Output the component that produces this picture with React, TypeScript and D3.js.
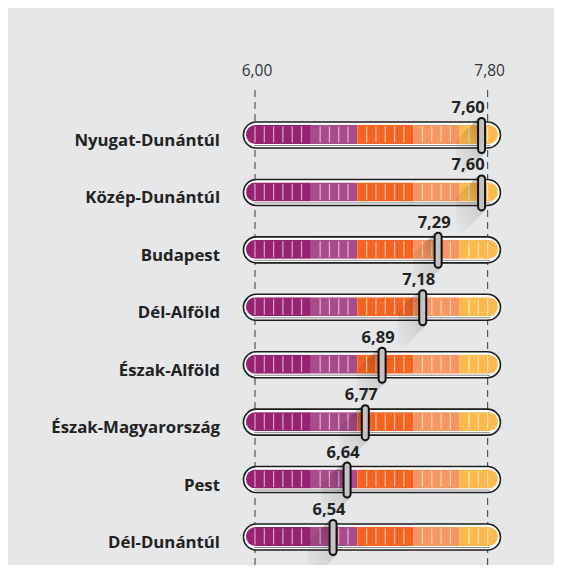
import React from "react";
import * as d3 from "d3";

// regions and scores
const regions = [
  "Nyugat-Dunántúl",
  "Közép-Dunántúl",
  "Budapest",
  "Dél-Alföld",
  "Észak-Alföld",
  "Észak-Magyarország",
  "Pest",
  "Dél-Dunántúl",
];
const scores = [7.6, 7.6, 7.29, 7.18, 6.89, 6.77, 6.64, 6.54];

// axis ends shown on top
const axisTicks = [6.0, 7.8];
// the bar is cut into 25 steps between the two ends
const stepCount = 25;
// colour bands, given as step index where each one stops
const bandStops = [6, 11, 17, 22];
const bandColors = ["#962272", "#a94b8b", "#f46420", "#f89560", "#fcba4e"];
// range the coloured bar covers
const barExtent = [5.93, 7.88];

const W = 546;
const H = 557;

const fmt = (v: number) => d3.format(".2f")(v).replace(".", ",");

export default function App() {
  const x = d3.scaleLinear().domain([6.0, 7.8]).range([247, 479.6]);
  // the knobs sit on a slightly wider scale than the axis
  const xm = d3.scaleLinear().domain([6.0, 7.8]).range([249.4, 501.6]);
  const y = d3.scalePoint<string>().domain(regions).range([127, 529]);

  const step = (7.8 - 6.0) / stepCount;
  const stepVals = d3.range(0, stepCount + 1).map((i) => 6.0 + i * step);
  const bandEdges = [barExtent[0], ...bandStops.map((i) => 6.0 + i * step), barExtent[1]];
  const bands = bandColors.map((c, i) => ({ from: bandEdges[i], to: bandEdges[i + 1], color: c }));

  const bx0 = x(barExtent[0]);
  const bx1 = x(barExtent[1]);
  const limit = x(7.8) - 3;

  return (
    <svg width={W} height={H} style={{ display: "block" }}>
      <defs>
        <linearGradient id="shade" x1="1" y1="0" x2="0" y2="1">
          <stop offset="0" stopColor="#000" stopOpacity={0.32} />
          <stop offset="0.45" stopColor="#000" stopOpacity={0.1} />
          <stop offset="1" stopColor="#000" stopOpacity={0} />
        </linearGradient>
        {regions.map((r, i) => (
          <clipPath id={`clip${i}`} key={r}>
            <rect x={bx0} y={y(r)! - 10} width={bx1 - bx0} height={19} rx={9.5} />
          </clipPath>
        ))}
      </defs>
      <rect width={W} height={H} fill="#e6e7e9" />

      {axisTicks.map((t) => (
        <g key={t}>
          <line x1={x(t)} x2={x(t)} y1={82} y2={H} stroke="#555" strokeWidth={1.2} strokeDasharray="7,5" />
          <text x={x(t) + 2} y={68} textAnchor="middle" fontFamily="Open Sans" fontSize={15.5} fill="#333">
            {fmt(t)}
          </text>
        </g>
      ))}

      {regions.map((r, i) => {
        const cy = y(r)!;
        const v = scores[i];
        const mx = xm(v);
        const mTop = cy - 17;
        const mBot = cy + 18;
        const w = 7;
        const L = 22;
        const x0 = mx - w / 2;
        const x1 = mx + w / 2;
        const shadow = [
          [x0, mTop],
          [x1, mTop],
          [x1, mBot],
          [x1 - L, mBot + L],
          [x0 - L, mBot + L],
          [x0 - L, mTop + L],
        ]
          .map((p) => p.join(","))
          .join(" ");
        let lx = mx - 4;
        let anchor = "middle";
        if (lx + 18 > limit) {
          lx = limit;
          anchor = "end";
        }
        return (
          <g key={r}>
            <text
              x={212}
              y={cy + 11}
              textAnchor="end"
              fontFamily="Open Sans"
              fontWeight="bold"
              fontSize={16.8}
              fill="#222"
            >
              {r}
            </text>
            <rect
              x={bx0 - 2.5}
              y={cy - 13}
              width={bx1 - bx0 + 5}
              height={26}
              rx={13}
              fill="#fff"
              stroke="#1c1c1c"
              strokeWidth={1.6}
            />
            <g clipPath={`url(#clip${i})`}>
              {bands.map((b) => (
                <rect
                  key={b.color}
                  x={x(b.from)}
                  y={cy - 10}
                  width={x(b.to) - x(b.from)}
                  height={19}
                  fill={b.color}
                />
              ))}
              {stepVals
                .filter((_, k) => !bandStops.includes(k))
                .map((s) => (
                  <line
                    key={s}
                    x1={x(s)}
                    x2={x(s)}
                    y1={cy - 8.5}
                    y2={cy + 7.5}
                    stroke="#fff"
                    strokeOpacity={0.6}
                    strokeWidth={1.2}
                  />
                ))}
            </g>
            <line x1={bx0 + 8} x2={bx1 - 8} y1={cy + 10.5} y2={cy + 10.5} stroke="#888" strokeWidth={1} />
            <polygon points={shadow} fill="url(#shade)" />
            <rect x={x0} y={mTop} width={w} height={mBot - mTop} rx={3.5} fill="#c4c4c4" stroke="#111" strokeWidth={2} />
            <text
              x={lx}
              y={cy - 22}
              textAnchor={anchor}
              fontFamily="Open Sans"
              fontWeight="bold"
              fontSize={16.5}
              fill="#222"
            >
              {fmt(v)}
            </text>
          </g>
        );
      })}
    </svg>
  );
}
